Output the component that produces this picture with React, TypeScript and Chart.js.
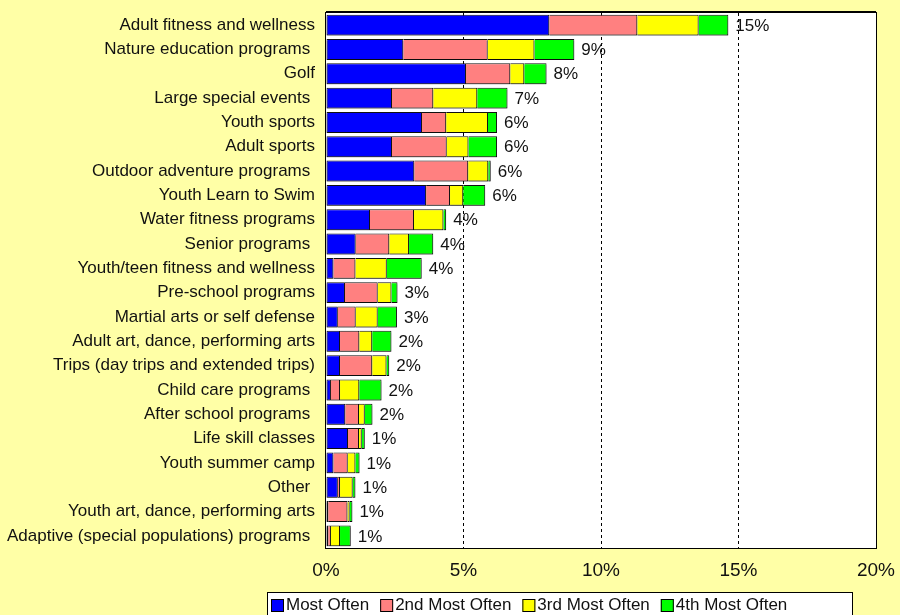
import React, { useEffect, useRef } from "react";
import { Chart, registerables } from "chart.js";

Chart.register(...registerables);

const categories = [
  "Adult fitness and wellness",
  "Nature education programs ",
  "Golf",
  "Large special events ",
  "Youth sports",
  "Adult sports",
  "Outdoor adventure programs ",
  "Youth Learn to Swim",
  "Water fitness programs",
  "Senior programs ",
  "Youth/teen fitness and wellness",
  "Pre-school programs",
  "Martial arts or self defense",
  "Adult art, dance, performing arts",
  "Trips (day trips and extended trips)",
  "Child care programs ",
  "After school programs ",
  "Life skill classes",
  "Youth summer camp",
  "Other ",
  "Youth art, dance, performing arts",
  "Adaptive (special populations) programs ",
];

const seriesNames = ["Most Often", "2nd Most Often", "3rd Most Often", "4th Most Often"];
const seriesColors = ["#0000FF", "#FF8080", "#FFFF00", "#00FF00"];

const mostOften = [8.12, 2.81, 5.09, 2.4, 3.49, 2.4, 3.21, 3.64, 1.6, 1.08, 0.27, 0.69, 0.43, 0.51, 0.51, 0.18, 0.7, 0.8, 0.27, 0.43, 0.08, 0.08];
const secondMost = [3.2, 3.07, 1.61, 1.5, 0.88, 1.99, 1.96, 0.87, 1.6, 1.22, 0.8, 1.19, 0.65, 0.7, 1.17, 0.33, 0.5, 0.4, 0.52, 0.08, 0.7, 0.1];
const thirdMost = [2.23, 1.7, 0.51, 1.6, 1.52, 0.79, 0.73, 0.48, 1.07, 0.72, 1.14, 0.5, 0.8, 0.47, 0.52, 0.7, 0.21, 0.1, 0.28, 0.46, 0.08, 0.33];
const fourthMost = [1.08, 1.45, 0.81, 1.1, 0.33, 1.04, 0.09, 0.8, 0.1, 0.88, 1.27, 0.22, 0.7, 0.7, 0.1, 0.81, 0.28, 0.11, 0.15, 0.1, 0.1, 0.39];

const totalLabels = ["15%", "9%", "8%", "7%", "6%", "6%", "6%", "6%", "4%", "4%", "4%", "3%", "3%", "2%", "2%", "2%", "2%", "1%", "1%", "1%", "1%", "1%"];

const xTickMin = 0;
const xTickMax = 20;
const xTickStep = 5;

const FONT = "'Liberation Sans', Arial, sans-serif";
const BG = "#FFFFA6";

export default function App() {
  const ref = useRef<HTMLCanvasElement | null>(null);

  useEffect(() => {
    const canvas = ref.current;
    if (!canvas) return;
    const values = [mostOften, secondMost, thirdMost, fourthMost];

    const bgPlugin = {
      id: "bgPlugin",
      beforeDraw(chart: any) {
        const { ctx, chartArea } = chart;
        ctx.save();
        ctx.fillStyle = BG;
        ctx.fillRect(0, 0, chart.width, chart.height);
        ctx.fillStyle = "#FFFFFF";
        ctx.fillRect(chartArea.left, chartArea.top, chartArea.right - chartArea.left, chartArea.bottom - chartArea.top);
        ctx.restore();
      },
      beforeDatasetsDraw(chart: any) {
        const ctx = chart.ctx;
        ctx.shadowColor = "rgba(0,0,0,0.3)";
        ctx.shadowOffsetX = 0;
        ctx.shadowOffsetY = 2;
        ctx.shadowBlur = 0;
      },
      afterDatasetsDraw(chart: any) {
        const ctx = chart.ctx;
        ctx.shadowColor = "rgba(0,0,0,0)";
        ctx.shadowOffsetX = 0;
        ctx.shadowOffsetY = 0;
        ctx.save();
        const { chartArea } = chart;
        ctx.strokeStyle = "#000";
        ctx.lineWidth = 1;
        ctx.strokeRect(
          Math.round(chartArea.left) - 0.5,
          Math.round(chartArea.top) - 0.5,
          Math.round(chartArea.right - chartArea.left) + 1,
          Math.round(chartArea.bottom - chartArea.top) + 1
        );
        ctx.beginPath();
        ctx.moveTo(chartArea.left, Math.round(chartArea.top) - 1.5);
        ctx.lineTo(chartArea.right, Math.round(chartArea.top) - 1.5);
        ctx.stroke();
        // totals labels
        const last = chart.getDatasetMeta(chart.data.datasets.length - 1);
        ctx.fillStyle = "#111";
        ctx.font = `17px ${FONT}`;
        ctx.textAlign = "left";
        ctx.textBaseline = "middle";
        last.data.forEach((bar: any, i: number) => {
          ctx.fillText(totalLabels[i], bar.x + 7, bar.y + 1);
        });
        ctx.restore();
      },
      afterDraw(chart: any) {
        const ctx = chart.ctx;
        ctx.save();
        ctx.fillStyle = "#FFFFFF";
        ctx.fillRect(267, 592, 585, 30);
        ctx.strokeStyle = "#000";
        ctx.lineWidth = 1;
        ctx.strokeRect(267.5, 592.5, 585, 30);
        ctx.font = `17px ${FONT}`;
        ctx.textBaseline = "middle";
        ctx.textAlign = "left";
        let x = 271;
        chart.data.datasets.forEach((ds: any) => {
          ctx.fillStyle = ds.backgroundColor;
          ctx.fillRect(x, 599, 13, 13);
          ctx.strokeStyle = "#000";
          ctx.strokeRect(x + 0.5, 599.5, 12, 12);
          ctx.fillStyle = "#111";
          ctx.fillText(ds.label, x + 15, 605);
          x += 15 + ctx.measureText(ds.label).width + 11;
        });
        ctx.restore();
      },
    };

    const chart = new Chart(canvas, {
      type: "bar",
      data: {
        labels: categories,
        datasets: seriesNames.map((name, k) => ({
          label: name,
          data: values[k],
          backgroundColor: seriesColors[k],
          borderColor: "#111",
          borderWidth: { top: 1, bottom: 1, right: 1, left: k === 0 ? 1 : 0 },
          borderSkipped: false,
          categoryPercentage: 1,
          barPercentage: 0.86,
        })),
      },
      options: {
        indexAxis: "y",
        animation: false,
        responsive: false,
        devicePixelRatio: 1,
        layout: { padding: { left: 0, right: 24, top: 13, bottom: 0 } },
        plugins: {
          legend: { display: false },
          tooltip: { enabled: false },
        },
        scales: {
          x: {
            stacked: true,
            min: xTickMin,
            max: xTickMax,
            ticks: {
              stepSize: xTickStep,
              callback: (v: any) => `${v}%`,
              color: "#111",
              font: { family: FONT, size: 19 },
              padding: 0,
              maxRotation: 0,
            },
            grid: {
              drawTicks: true,
              tickLength: 11,
              tickColor: "rgba(0,0,0,0)",
              lineWidth: 1,
              color: (c: any) =>
                c.tick && (c.tick.value === xTickMin || c.tick.value === xTickMax) ? "rgba(0,0,0,0)" : "#000",
            },
            border: { display: false, dash: [3, 3] },
            afterFit(scale: any) {
              scale.height = 67;
            },
          },
          y: {
            stacked: true,
            ticks: {
              color: "#111",
              font: { family: FONT, size: 17 },
              padding: 0,
              autoSkip: false,
            },
            grid: {
              display: true,
              drawOnChartArea: false,
              drawTicks: true,
              tickLength: 11,
              color: "rgba(0,0,0,0)",
              tickColor: "rgba(0,0,0,0)",
            },
            border: { display: false },
            afterFit(scale: any) {
              scale.width = 326;
            },
          },
        },
      },
      plugins: [bgPlugin],
    } as any);

    return () => chart.destroy();
  }, []);

  return (
    <div style={{ position: "fixed", left: 0, top: 0, width: 900, height: 615, background: BG }}>
      <canvas ref={ref} width={900} height={615} style={{ display: "block", width: 900, height: 615 }} />
    </div>
  );
}
